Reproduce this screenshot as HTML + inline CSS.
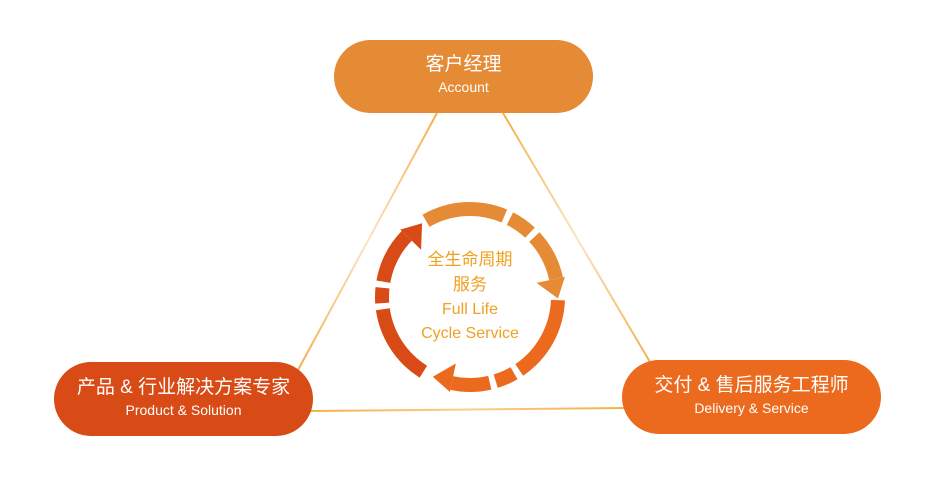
<!DOCTYPE html>
<html><head><meta charset="utf-8"><style>
body{margin:0;background:#fff;width:947px;height:482px;overflow:hidden;font-family:"Liberation Sans","Noto Sans CJK SC",sans-serif}
.p{position:absolute;border-radius:37px;color:#fff;text-align:center;box-sizing:border-box}
.p .c{font-size:19px;line-height:25px}
.p .e{font-size:14px;line-height:20px}
</style></head><body>
<svg id="s" width="947" height="482" style="position:absolute;left:0;top:0">
<defs>
<linearGradient id="gl" x1="0" y1="0" x2="0" y2="1"><stop offset="0" stop-color="#f4b04a"/><stop offset=".5" stop-color="#fbe3c0"/><stop offset="1" stop-color="#f4b04a"/></linearGradient>
<linearGradient id="gb" x1="0" y1="0" x2="1" y2="0"><stop offset="0" stop-color="#f4b04a"/><stop offset=".5" stop-color="#f8cf8a"/><stop offset="1" stop-color="#f4b04a"/></linearGradient>
</defs>
<line x1="437" y1="113" x2="298" y2="370" stroke="url(#gl)" stroke-width="2"/>
<line x1="503" y1="113" x2="650" y2="362" stroke="url(#gl)" stroke-width="2"/>
<line x1="310" y1="411" x2="625" y2="408" stroke="url(#gb)" stroke-width="2"/>
<g id="arcs"></g>
<text x="470" y="265" text-anchor="middle" font-size="17" fill="#f0a020" font-family="Liberation Sans,Noto Sans CJK SC,sans-serif">全生命周期</text>
<text x="470" y="290" text-anchor="middle" font-size="17" fill="#f0a020" font-family="Liberation Sans,Noto Sans CJK SC,sans-serif">服务</text>
<text x="470" y="314" text-anchor="middle" font-size="16" fill="#f0a020" font-family="Liberation Sans,sans-serif">Full Life</text>
<text x="470" y="338" text-anchor="middle" font-size="16" fill="#f0a020" font-family="Liberation Sans,sans-serif">Cycle Service</text>
</svg>
<div class="p" style="left:334px;top:40px;width:259px;height:73px;background:#e58a35;padding-top:12px"><div class="c">客户经理</div><div class="e">Account</div></div>
<div class="p" style="left:54px;top:362px;width:259px;height:74px;background:#d84a16;padding-top:13px"><div class="c">产品 &amp; 行业解决方案专家</div><div class="e">Product &amp; Solution</div></div>
<div class="p" style="left:622px;top:360px;width:259px;height:74px;background:#ec6a1e;padding-top:13px"><div class="c">交付 &amp; 售后服务工程师</div><div class="e">Delivery &amp; Service</div></div>
<script>
var cx=470,cy=297,r=88,w=14,g=document.getElementById('arcs');
function P(a,rr){a=a*Math.PI/180;return [cx+rr*Math.cos(a),cy+rr*Math.sin(a)];}
function arc(a1,a2,col){var ro=r+w/2,ri=r-w/2,p1=P(a1,ro),p2=P(a2,ro),p3=P(a2,ri),p4=P(a1,ri);var l=(a2-a1)>180?1:0;
 var d='M'+p1+' A'+ro+' '+ro+' 0 '+l+' 1 '+p2+' L'+p3+' A'+ri+' '+ri+' 0 '+l+' 0 '+p4+'Z';
 g.innerHTML+='<path d="'+d+'" fill="'+col+'"/>';}
function head(a,col){var b=P(a,r+9),c=P(a,r-20),t=P(a+13,r);g.innerHTML+='<polygon points="'+b+' '+t+' '+c+'" fill="'+col+'"/>';}
var A='#e58a35',B='#ec6a1e',C='#d84a16';
arc(240,293,A);arc(297,313,A);arc(317,348,A);head(348,A);
arc(2,56,B);arc(60,73,B);arc(77,102,B);head(102,B);
arc(122,172,C);arc(176,186,C);arc(190,224,C);head(224,C);
</script>
</body></html>
